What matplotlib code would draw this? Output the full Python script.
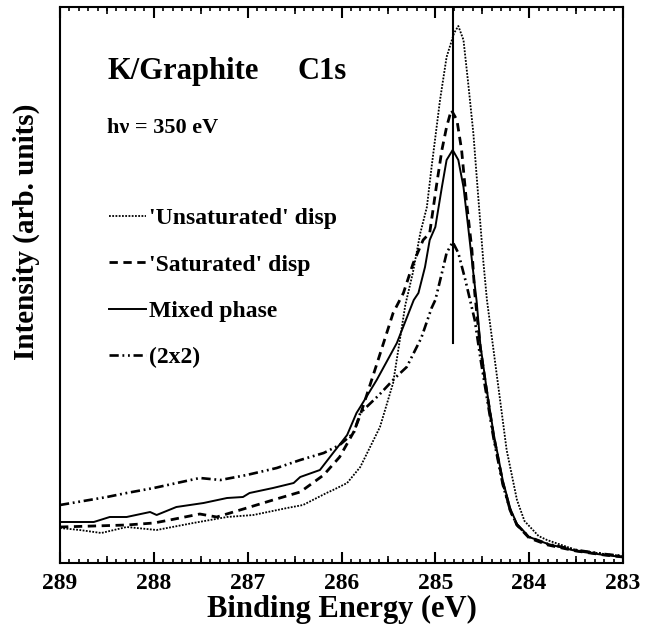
import matplotlib
matplotlib.use("Agg")
import matplotlib.pyplot as plt
from matplotlib.ticker import MultipleLocator, FixedLocator, NullFormatter

plt.rcParams['font.family'] = ['Liberation Serif', 'DejaVu Serif']
plt.rcParams['font.weight'] = 'bold'

# binding energy (eV) / intensity (arb. units)
unsat_e = [289.0, 288.79, 288.56, 288.29, 287.97, 287.58, 287.22, 286.94, 286.58, 286.41,
           286.16, 286.09, 285.94, 285.80, 285.59, 285.45, 285.32, 285.24, 285.16, 285.09,
           285.04, 284.95, 284.88, 284.80, 284.755, 284.70, 284.65, 284.595, 284.54, 284.49,
           284.45, 284.38, 284.31, 284.24, 284.13, 284.05, 283.99, 283.90, 283.81, 283.5,
           283.2, 283.0]
unsat_i = [35, 33, 30, 36, 33, 40, 46, 48, 55, 58,
           70, 73, 80, 96, 136, 180, 258, 290, 330, 356,
           396, 463, 506, 530, 537, 523, 480, 430, 363, 303,
           263, 213, 163, 113, 63, 42, 36, 27, 23, 13,
           9, 7]

sat_e = [289.0, 288.64, 288.29, 288.0, 287.83, 287.51, 287.33, 287.01, 286.73, 286.44,
         286.19, 286.02, 285.87, 285.80, 285.62, 285.45, 285.34, 285.235, 285.13, 285.06,
         284.99, 284.93, 284.88, 284.83, 284.77, 284.72, 284.67, 284.61, 284.58, 284.52,
         284.45, 284.38, 284.28, 284.20, 284.13, 284.0, 283.8, 283.5, 283.2, 283.0]
sat_i = [36, 37, 38, 40, 43, 49, 46, 55, 63, 71,
         88, 106, 131, 148, 200, 250, 270, 300, 323, 330,
         376, 413, 436, 453, 443, 413, 363, 313, 270, 215,
         170, 128, 80, 52, 38, 25, 18, 12, 8, 6]

mixed_e = [289.0, 288.64, 288.47, 288.29, 288.04, 287.97, 287.76, 287.47, 287.22, 287.05,
           286.98, 286.73, 286.51, 286.44, 286.23, 286.09, 285.94, 285.84, 285.80, 285.625,
           285.41, 285.23, 285.18, 285.11, 285.06, 285.00, 284.93, 284.88, 284.815, 284.755,
           284.70, 284.65, 284.595, 284.56, 284.52, 284.45, 284.38, 284.28, 284.20, 284.13,
           284.0, 283.8, 283.5, 283.2, 283.0]
mixed_i = [41, 41, 46, 46, 51, 48, 56, 60, 65, 66,
           70, 75, 80, 86, 93, 110, 128, 150, 156, 183,
           220, 263, 270, 296, 323, 336, 376, 403, 413, 403,
           376, 336, 290, 262, 218, 172, 130, 82, 54, 39,
           26, 19, 12, 8, 6]

p2x2_e = [289.0, 288.50, 288.29, 288.0, 287.51, 287.29, 287.01, 286.69, 286.44, 286.19,
          286.02, 285.87, 285.80, 285.60, 285.43, 285.305, 285.15, 285.04, 285.0, 284.93,
          284.88, 284.815, 284.755, 284.68, 284.63, 284.58, 284.52, 284.45, 284.38, 284.28,
          284.20, 284.13, 284.0, 283.8, 283.5, 283.2, 283.0]
p2x2_i = [58, 66, 70, 75, 85, 83, 88, 95, 103, 110,
          118, 130, 150, 168, 185, 196, 225, 255, 263, 290,
          310, 321, 310, 283, 263, 243, 205, 165, 125, 78,
          52, 38, 26, 19, 13, 9, 7]

labels = ["'Unsaturated' disp", "'Saturated' disp", "Mixed phase", "(2x2)"]
peak_pos = 284.81

fig = plt.figure(figsize=(6.53, 6.26), dpi=100)
ax = fig.add_axes([60/653, 63/626, 563/653, 556/626])

ax.plot(unsat_e, unsat_i, color='black', lw=1.3, ls=(0, (1, 0.8)), label=labels[0])
ax.plot(sat_e, sat_i, color='black', lw=2.0, ls=(0, (3, 2)), label=labels[1])
ax.plot(mixed_e, mixed_i, color='black', lw=1.4, ls='-', label=labels[2])
ax.plot(p2x2_e, p2x2_i, color='black', lw=1.9, ls=(0, (3.5, 1.4, 0.7, 1.4, 0.7, 1.4)),
        label=labels[3])
ax.axvline(peak_pos, ymin=0.396, ymax=1, color='black', lw=1.5)

ax.set_xlim(289, 283)
ax.set_ylim(0, 556)
ax.set_yticks([])

for s in ax.spines.values():
    s.set_linewidth(1.5)

ax.xaxis.set_major_locator(MultipleLocator(1))
ax.xaxis.set_minor_locator(MultipleLocator(0.1))
ax.tick_params(axis='x', which='both', direction='in', top=True, bottom=True)
ax.tick_params(axis='x', which='major', length=8, width=1.5, pad=7, labelsize=17)
ax.tick_params(axis='x', which='minor', length=3, width=1.2)
for t in ax.get_xticklabels():
    t.set_fontweight('bold')

# half-eV ticks (medium length)
for loc in ['bottom', 'top']:
    sec = ax.secondary_xaxis(loc)
    sec.xaxis.set_major_locator(FixedLocator([288.5, 287.5, 286.5, 285.5, 284.5, 283.5]))
    sec.xaxis.set_major_formatter(NullFormatter())
    sec.tick_params(direction='in', length=5, width=1.2)
    sec.spines[loc].set_visible(False)

ax.set_xlabel('Binding Energy (eV)', fontsize=22, fontweight='bold', labelpad=1)
ax.set_ylabel('Intensity (arb. units)', fontsize=21, fontweight='bold', va='center')
ax.yaxis.set_label_coords(-0.059, 0.595)

ax.text(0.0835, 0.8705, 'K/Graphite', transform=ax.transAxes, fontsize=22,
        fontweight='bold', va='baseline')
ax.text(0.4227, 0.8705, 'C1s', transform=ax.transAxes, fontsize=22,
        fontweight='bold', va='baseline')
ax.text(0.0835, 0.7734, 'h\u03bd = 350 eV', transform=ax.transAxes, fontsize=16,
        fontweight='bold', va='baseline')

ax.legend(loc='upper left', bbox_to_anchor=(0.087, 0.639), frameon=False,
          prop={'size': 17, 'weight': 'bold'}, handlelength=1.57, handletextpad=0.12,
          labelspacing=1.05, borderpad=0, borderaxespad=0)

fig.savefig('out.png', dpi=100)
